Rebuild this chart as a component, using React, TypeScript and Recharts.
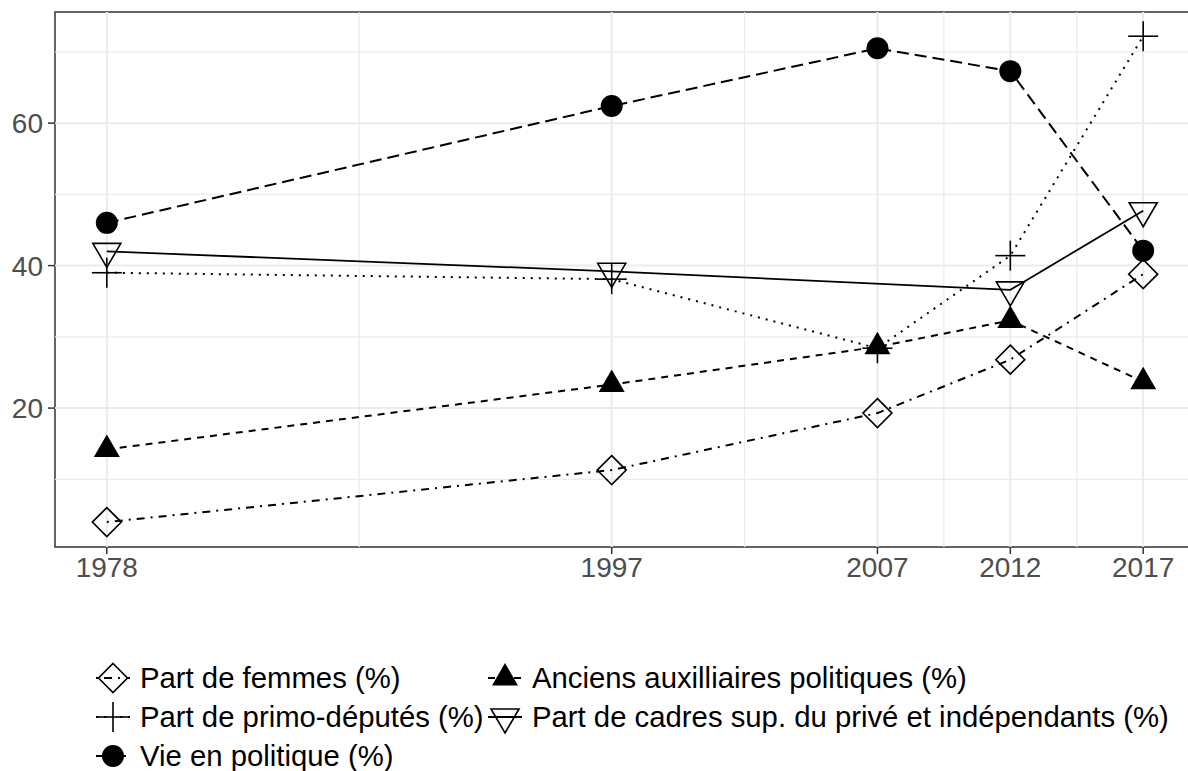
import React from 'react'
import { LineChart, Line, XAxis, YAxis, ReferenceLine, ReferenceArea } from 'recharts'

// election years and shares (%)
const years = [1978, 1997, 2007, 2012, 2017]
const femmes = [4.0, 11.3, 19.3, 26.8, 38.8]
const auxiliaires = [14.2, 23.3, 28.6, 32.3, 23.7]
const primo = [39.0, 38.1, 28.4, 41.4, 72.2]
const cadres: (number | null)[] = [42.0, 39.2, null, 36.6, 47.7]
const vie = [46.0, 62.4, 70.5, 67.3, 42.1]

const xTicks = [1978, 1997, 2007, 2012, 2017]
const xMinor = [1987.5, 2002, 2009.5, 2014.5]
const yTicks = [20, 40, 60]
const yMinor = [10, 30, 50, 70]
const xDomain: [number, number] = [1976.05, 2018.95]
const yDomain: [number, number] = [0.5, 75.6]

type Shape = 'diamond' | 'plus' | 'circle' | 'triangle' | 'triangleDown'

const series: { key: string; name: string; dash?: string; shape: Shape }[] = [
  { key: 'femmes', name: 'Part de femmes (%)', dash: '2 6 8 6', shape: 'diamond' },
  { key: 'auxiliaires', name: 'Anciens auxilliaires politiques (%)', dash: '7 6', shape: 'triangle' },
  { key: 'primo', name: 'Part de primo-députés (%)', dash: '2 6', shape: 'plus' },
  { key: 'cadres', name: 'Part de cadres sup. du privé et indépendants (%)', shape: 'triangleDown' },
  { key: 'vie', name: 'Vie en politique (%)', dash: '12 6', shape: 'circle' },
]

const data = years.map((year, i) => ({
  year,
  femmes: femmes[i],
  auxiliaires: auxiliaires[i],
  primo: primo[i],
  cadres: cadres[i],
  vie: vie[i],
}))

const font = '"Liberation Sans", Arial, Helvetica, sans-serif'

const Marker = ({ shape, cx, cy }: { shape: Shape; cx: number; cy: number }) => {
  switch (shape) {
    case 'diamond':
      return (
        <polygon
          points={`${cx},${cy - 14.5} ${cx + 14.5},${cy} ${cx},${cy + 14.5} ${cx - 14.5},${cy}`}
          fill="none"
          stroke="#000"
          strokeWidth={1.6}
        />
      )
    case 'plus':
      return (
        <g stroke="#000" strokeWidth={1.6}>
          <line x1={cx - 15} y1={cy} x2={cx + 15} y2={cy} />
          <line x1={cx} y1={cy - 15} x2={cx} y2={cy + 15} />
        </g>
      )
    case 'circle':
      return <circle cx={cx} cy={cy} r={11} fill="#000" />
    case 'triangle':
      return <polygon points={`${cx},${cy - 15} ${cx + 13},${cy + 7.5} ${cx - 13},${cy + 7.5}`} fill="#000" />
    case 'triangleDown':
      return (
        <polygon
          points={`${cx},${cy + 16} ${cx + 14},${cy - 8} ${cx - 14},${cy - 8}`}
          fill="none"
          stroke="#000"
          strokeWidth={1.6}
        />
      )
  }
}

const makeDot = (shape: Shape) => (props: any) => {
  const { cx, cy, index, value } = props
  const k = `${shape}-${index}`
  if (cx == null || cy == null || value == null || Number.isNaN(cy)) return <g key={k} />
  return (
    <g key={k}>
      <Marker shape={shape} cx={cx} cy={cy} />
    </g>
  )
}

const legendPos = [
  { x: 113, y: 678 },
  { x: 505, y: 678 },
  { x: 113, y: 717 },
  { x: 505, y: 717 },
  { x: 113, y: 756 },
]

const Legend = () => (
  <>
    {series.map((s, i) => {
      const p = legendPos[i]
      return (
        <div key={s.key} style={{ position: 'absolute', left: p.x - 20, top: p.y - 20, height: 40, display: 'flex', alignItems: 'center' }}>
          <svg width={40} height={40}>
            <line x1={3} y1={20} x2={37} y2={20} stroke="#000" strokeWidth={1.8} strokeDasharray={s.dash} />
            <Marker shape={s.shape} cx={20} cy={20} />
          </svg>
          <span style={{ marginLeft: 7, fontFamily: font, fontSize: 29.3, color: '#000', whiteSpace: 'nowrap' }}>{s.name}</span>
        </div>
      )
    })}
  </>
)

export default function App() {
  return (
    <div style={{ position: 'fixed', left: 0, top: 0, width: 1188, height: 771, overflow: 'hidden', background: '#fff' }}>
      <LineChart width={1200} height={771} data={data} margin={{ top: 12, right: 5, left: 0, bottom: 0 }}>
        {yMinor.map((v) => (
          <ReferenceLine key={`ym${v}`} y={v} stroke="#EBEBEB" strokeWidth={1.2} />
        ))}
        {xMinor.map((v) => (
          <ReferenceLine key={`xm${v}`} x={v} stroke="#EBEBEB" strokeWidth={1.2} />
        ))}
        {yTicks.map((v) => (
          <ReferenceLine key={`y${v}`} y={v} stroke="#EBEBEB" strokeWidth={2} />
        ))}
        {xTicks.map((v) => (
          <ReferenceLine key={`x${v}`} x={v} stroke="#EBEBEB" strokeWidth={2} />
        ))}
        <XAxis
          dataKey="year"
          type="number"
          domain={xDomain}
          ticks={xTicks}
          allowDataOverflow
          height={224}
          tickSize={7}
          tickMargin={3}
          axisLine={false}
          tickLine={{ stroke: '#333', strokeWidth: 1.5 }}
          tick={{ fontFamily: font, fontSize: 28, fill: '#4D4D4D' }}
        />
        <YAxis
          type="number"
          domain={yDomain}
          ticks={yTicks}
          allowDataOverflow
          width={55}
          tickSize={7}
          tickMargin={5}
          axisLine={false}
          tickLine={{ stroke: '#333', strokeWidth: 1.5 }}
          tick={{ fontFamily: font, fontSize: 28, fill: '#4D4D4D' }}
        />
        {series.map((s) => (
          <Line
            key={`line-${s.key}`}
            dataKey={s.key}
            name={s.name}
            type="linear"
            stroke="#000"
            strokeWidth={s.dash ? 2 : 1.8}
            strokeDasharray={s.dash}
            dot={false}
            activeDot={false}
            connectNulls
            isAnimationActive={false}
          />
        ))}
        {series.map((s) => (
          <Line
            key={`pts-${s.key}`}
            dataKey={s.key}
            type="linear"
            stroke="none"
            strokeWidth={0}
            dot={makeDot(s.shape)}
            activeDot={false}
            legendType="none"
            isAnimationActive={false}
          />
        ))}
        <ReferenceArea
          x1={xDomain[0]}
          x2={xDomain[1]}
          y1={yDomain[0]}
          y2={yDomain[1]}
          fill="none"
          stroke="#333"
          strokeWidth={1.5}
          ifOverflow="visible"
        />
      </LineChart>
      <Legend />
    </div>
  )
}
